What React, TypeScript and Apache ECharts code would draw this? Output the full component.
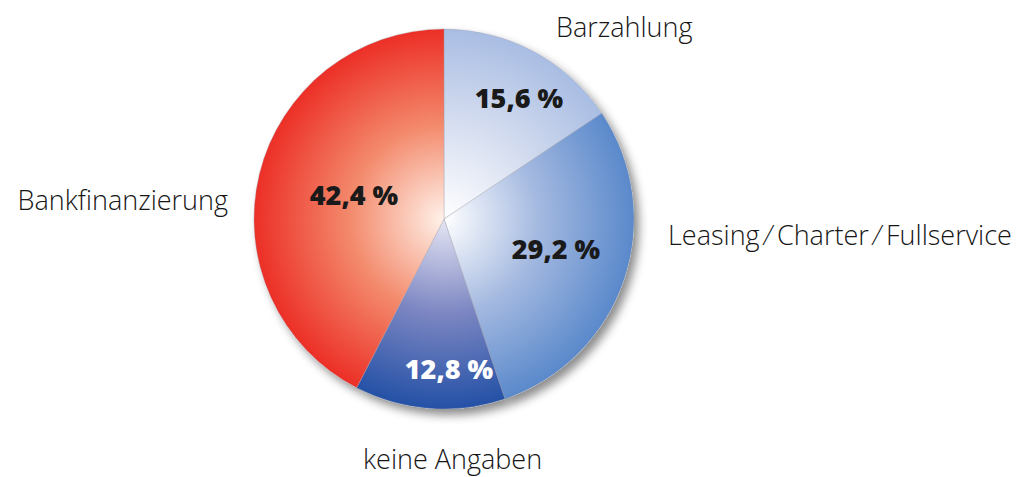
import React, { useEffect, useRef } from "react";
import * as echarts from "echarts";

const categories = ["Barzahlung", "Leasing ⁄ Charter ⁄ Fullservice", "keine Angaben", "Bankfinanzierung"];
const values = [15.6, 29.2, 12.8, 42.4];
const valueLabels = ["15,6 %", "29,2 %", "12,8 %", "42,4 %"];

const CX = 444;
const CY = 219;
const R = 190;

const gradientStops: string[][] = [
  ["#ffffff", "#d6def0", "#a9bde3"],
  ["#ffffff", "#a4b9e0", "#5a89cb"],
  ["#e6e6f4", "#7c86c2", "#2451a6"],
  ["#fff2ea", "#f3896b", "#ec2f27"],
];
const labelColors = ["#1a1a1a", "#1a1a1a", "#ffffff", "#1a1a1a"];

// label anchor layout (not data)
const innerLabelPos = [
  [519, 97],
  [556, 248],
  [449, 368],
  [354, 194],
];
const outerLabelPos: [number, number, string][] = [
  [556, 26, "left"],
  [668, 234, "left"],
  [363, 458, "left"],
  [228, 199, "right"],
];

export default function App() {
  const ref = useRef<HTMLDivElement>(null);
  useEffect(() => {
    if (!ref.current) return;
    const chart = echarts.init(ref.current, null, { renderer: "svg" });
    const grad = (i: number) => ({
      type: "radial",
      x: CX,
      y: CY,
      r: R,
      global: true,
      colorStops: [
        { offset: 0, color: gradientStops[i][0] },
        { offset: 0.5, color: gradientStops[i][1] },
        { offset: 1, color: gradientStops[i][2] },
      ],
    });
    chart.setOption({
      animation: false,
      backgroundColor: "#ffffff",
      series: [
        {
          type: "pie",
          silent: true,
          center: [CX, CY],
          radius: R,
          startAngle: 90,
          clockwise: true,
          z: 1,
          avoidLabelOverlap: false,
          itemStyle: {
            color: "#ffffff",
            shadowBlur: 10,
            shadowOffsetX: 5,
            shadowOffsetY: 6,
            shadowColor: "rgba(0,0,0,0.45)",
          },
          label: {
            show: true,
            position: "outside",
            formatter: "{b}",
            fontFamily: "Open Sans",
            fontWeight: 300,
            fontSize: 27,
            lineHeight: 30,
            color: "#161616",
            overflow: "none",
            width: 400,
          },
          labelLine: { show: false },
          labelLayout: (p: any) => {
            const pos = outerLabelPos[p.dataIndex];
            return { x: pos[0], y: pos[1], align: pos[2], verticalAlign: "middle" };
          },
          data: categories.map((c, i) => ({ name: c, value: values[i] })),
        },
        {
          type: "pie",
          silent: true,
          center: [CX, CY],
          radius: R,
          startAngle: 90,
          clockwise: true,
          z: 2,
          avoidLabelOverlap: false,
          itemStyle: { borderColor: "rgba(160,160,170,0.6)", borderWidth: 0.6 },
          label: {
            show: true,
            position: "inside",
            fontFamily: "Open Sans",
            fontWeight: 800,
            fontSize: 27,
          },
          labelLine: { show: false },
          labelLayout: (p: any) => {
            const pos = innerLabelPos[p.dataIndex];
            return { x: pos[0], y: pos[1], align: "center", verticalAlign: "middle" };
          },
          data: categories.map((c, i) => ({
            name: c,
            value: values[i],
            itemStyle: { color: grad(i) },
            label: { formatter: valueLabels[i], color: labelColors[i] },
          })),
        },
      ],
    });
    return () => chart.dispose();
  }, []);
  return (
    <div
      ref={ref}
      style={{ position: "absolute", left: 0, top: 0, width: 1029, height: 477 }}
    />
  );
}
